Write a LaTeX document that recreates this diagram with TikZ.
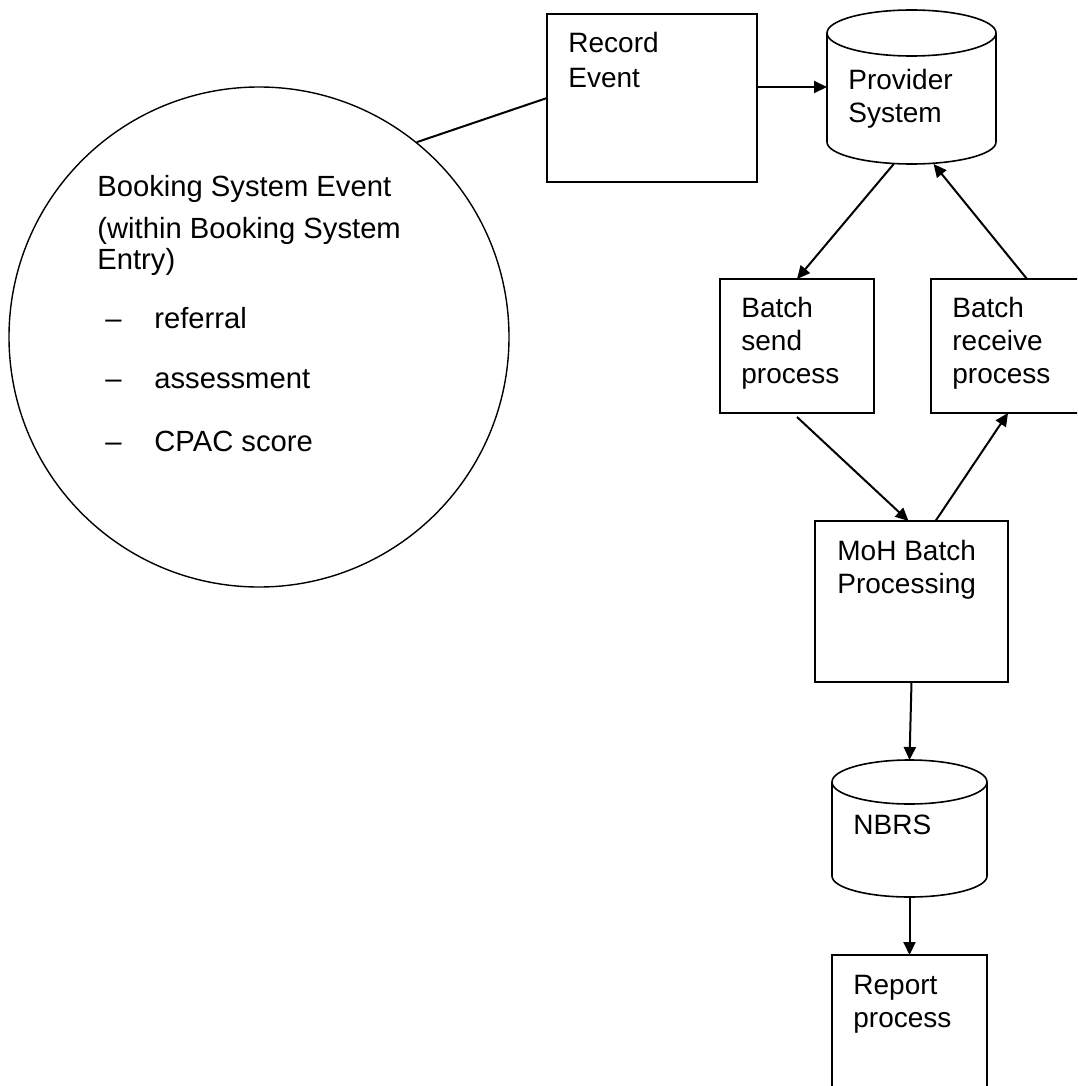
\documentclass[tikz,border=0pt]{standalone}
\usepackage{fontspec}
\setmainfont{Liberation Sans}
\usetikzlibrary{positioning,arrows.meta}

\begin{document}
\begin{tikzpicture}[x=0.5pt, y=-0.5pt,
    box/.style={draw, line width=0.8pt, inner sep=0pt, outer sep=0pt},
    store/.style={inner sep=0pt, outer sep=0pt},
    txt/.style={anchor=north west, inner sep=0pt, align=left, font=\fontsize{14}{16.5}\selectfont},
    arr/.style={-{Triangle[length=6.5pt,width=6pt]}, line width=1pt}]
    \clip (0,0) rectangle (1077,1086);

    % Booking system event (circle)
    \node[circle, draw, line width=0.7pt, minimum size=250pt, inner sep=0pt] (evt) at (259,337) {};
    \node[txt, font=\fontsize{14.6}{15.5}\selectfont] (evt-t) at (97,175) {Booking System Event\\[5.5pt]
        (within Booking System\\Entry)\\[14pt]
        \hspace*{4pt}\makebox[24.5pt][l]{–}referral\\[14.5pt]
        \hspace*{4pt}\makebox[24.5pt][l]{–}assessment\\[16pt]
        \hspace*{4pt}\makebox[24.5pt][l]{–}CPAC score};

    % Boxes
    \node[box, minimum width=105pt, minimum height=84pt] (rec) at (652,98) {};
    \node[txt] (rec-t) at (568,32) {Record\\[1pt]Event};

    \node[box, minimum width=77pt, minimum height=67pt] (bsend) at (797,346) {};
    \node[txt] (bsend-t) at (741,297) {Batch\\send\\process};

    \node[box, minimum width=77pt, minimum height=67pt] (brecv) at (1008,346) {};
    \node[txt] (brecv-t) at (952,297) {Batch\\receive\\process};

    \node[box, minimum width=96.5pt, minimum height=80.5pt] (moh) at (911.5,601.5) {};
    \node[txt] (moh-t) at (837,540) {MoH Batch\\Processing};

    \node[box, minimum width=77.5pt, minimum height=84pt] (rep) at (909.5,1039) {};
    \node[txt] (rep-t) at (853,975) {Report\\process};

    % Data stores (cylinders)
    \node[store, minimum width=84.5pt, minimum height=77pt] (prov) at (911.5,87) {};
    \draw[line width=0.8pt] ([yshift=-11.5pt]prov.north west) -- ([yshift=11pt]prov.south west)
        arc[start angle=180, end angle=360, x radius=42.25pt, y radius=11pt]
        -- ([yshift=-11.5pt]prov.north east);
    \draw[line width=0.8pt] ([yshift=-11.5pt]prov.north) ellipse[x radius=42.25pt, y radius=11.5pt];
    \node[txt] (prov-t) at (848,69) {Provider\\System};

    \node[store, minimum width=77.5pt, minimum height=68.5pt] (nbrs) at (909.5,828.5) {};
    \draw[line width=0.8pt] ([yshift=-11pt]nbrs.north west) -- ([yshift=10.5pt]nbrs.south west)
        arc[start angle=180, end angle=360, x radius=38.75pt, y radius=10.5pt]
        -- ([yshift=-11pt]nbrs.north east);
    \draw[line width=0.8pt] ([yshift=-11pt]nbrs.north) ellipse[x radius=38.75pt, y radius=11pt];
    \node[txt] (nbrs-t) at (853,815) {NBRS};

    % Connectors
    \draw[line width=1pt] (evt.51) -- (rec.west);
    \draw[arr] (rec.east |- prov.west) -- (prov.west);
    \draw[arr] (prov.257) -- (bsend.north);
    \draw[arr] ([xshift=9.5pt]brecv.north) -- (prov.286);
    \draw[arr] ([yshift=-2pt]bsend.south) -- ([xshift=-1.5pt]moh.north);
    \draw[arr] ([xshift=12pt]moh.north) -- (brecv.south);
    \draw[arr] (moh.south) -- (nbrs.north);
    \draw[arr] (nbrs.south) -- (rep.north);
\end{tikzpicture}
\end{document}
